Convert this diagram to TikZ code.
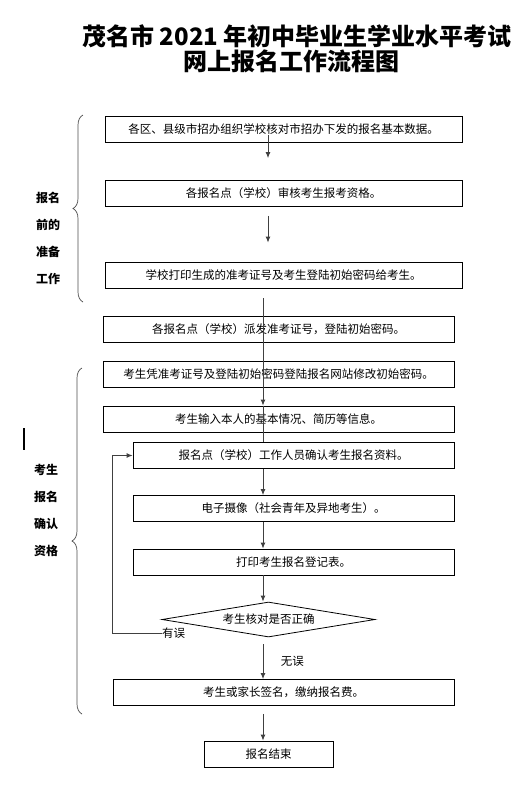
\documentclass[tikz,border=0pt]{standalone}
\usepackage{fontspec}
\setmainfont{Noto Sans CJK SC}
\usetikzlibrary{arrows.meta,shapes.geometric,decorations.pathreplacing,calc}

\tikzset{
  procbox/.style={draw, line width=0.8pt, minimum height=26pt, inner sep=0pt,
    font=\fontsize{11.5}{13}\selectfont},
  flow/.style={draw=black!75, line width=0.9pt},
  flowarr/.style={flow, -{Latex[length=6pt,width=5pt]}},
  sidetext/.style={align=center, font=\fontsize{12}{27}\selectfont\bfseries},
  sidebrace/.style={draw=black!70, line width=0.7pt, decorate,
    decoration={brace, amplitude=10pt}},
  titletext/.style={font=\fontsize{24}{28}\selectfont\bfseries}
}

\begin{document}
\begin{tikzpicture}[x=1pt,y=-1pt]
        \useasboundingbox (0,0) rectangle (532,787);

        % title
        \node[titletext] (title1) at (297,36) {茂名市 2021 年初中毕业生学业水平考试};
        \node[titletext] (title2) at (291,61) {网上报名工作流程图};

        \coordinate (spineA) at (268,0);
        \coordinate (spine) at (263,0);

        % preparation
        \node[procbox, minimum width=357pt] (b1) at (283.5,129.5) {各区、县级市招办组织学校核对市招办下发的报名基本数据。};
        \node[procbox, minimum width=357pt] (b2) at (283.5,193.5) {各报名点（学校）审核考生报考资格。};
        \node[procbox, minimum width=357pt] (b3) at (283.5,275) {学校打印生成的准考证号及考生登陆初始密码给考生。};

        % registration
        \node[procbox, minimum width=351pt] (b4) at (278.5,329) {各报名点（学校）派发准考证号，登陆初始密码。};
        \node[procbox, minimum width=351pt] (b5) at (278.5,374) {考生凭准考证号及登陆初始密码登陆报名网站修改初始密码。};
        \node[procbox, minimum width=351pt] (b6) at (278.5,419) {考生输入本人的基本情况、简历等信息。};
        \node[procbox, minimum width=321pt] (b7) at (293.5,455.5) {报名点（学校）工作人员确认考生报名资料。};
        \node[procbox, minimum width=321pt] (b8) at (293.5,508.5) {电子摄像（社会青年及异地考生）。};
        \node[procbox, minimum width=321pt] (b9) at (293.5,562) {打印考生报名登记表。};
        \node[draw, line width=0.8pt, diamond, aspect=6, inner sep=0pt, minimum width=213pt, minimum height=35pt,
          font=\fontsize{11.5}{13}\selectfont] (d) at (268.5,619.5) {考生核对是否正确};
        \node[procbox, minimum width=341pt] (b10) at (283.5,692.5) {考生或家长签名，缴纳报名费。};
        \node[procbox, minimum width=129pt] (b11) at (268.5,754) {报名结束};

        % connectors
        \draw[flowarr] ($(b1.south -| spineA)+(0,-8)$) -- ($(b2.north -| spineA)+(0,-22)$);
        \draw[flowarr] ($(b2.south -| spineA)+(0,9)$) -- ($(b3.north -| spineA)+(0,-19)$);
        \draw[flowarr] ($(b3.south -| spine)+(0,10)$) -- (b6.north -| spine);
        \draw[flow] (b6.north -| spine) -- (b7.north -| spine);
        \draw[flowarr] (b7.south -| spine) -- (b8.north -| spine);
        \draw[flowarr] (b8.south -| spine) -- (b9.north -| spine);
        \draw[flowarr] (b9.south -| spine) -- (d.north -| spine);
        \draw[flowarr] ($(d.south -| spine)+(0,7)$) -- (b10.north -| spine)
          node[midway, right=14pt, font=\fontsize{11.5}{13}\selectfont] (ok) {无误};
        \draw[flowarr] ($(b10.south -| spine)+(0,8)$) -- (b11.north -| spine);

        % back loop
        \node[inner sep=0pt, anchor=west, font=\fontsize{11.5}{13}\selectfont] (err) at (162,633) {有误};
        \draw[flowarr] (err.west) -| ($(b7.west)+(-20,0)$) -- (b7.west);

        % side groups
        \draw[sidebrace] (83,302) -- (83,115);
        \node[sidetext] (prep) at (48,238.5) {报名\\前的\\准备\\工作};
        \draw[sidebrace] (82,714) -- (82,368);
        \node[sidetext] (confirm) at (46,510.5) {考生\\报名\\确认\\资格};
        \draw[line width=2pt] (24,428) -- (24,450);
    \end{tikzpicture}
\end{document}
